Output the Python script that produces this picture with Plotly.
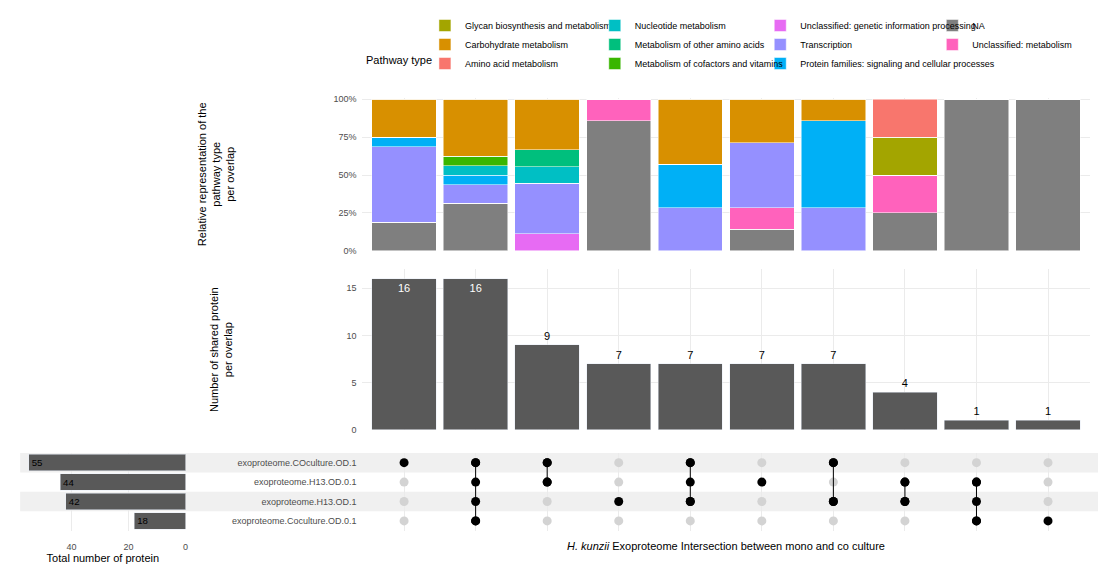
import plotly.graph_objects as go

inter = ["I1", "I2", "I3", "I4", "I5", "I6", "I7", "I8", "I9", "I10"]
counts = [16, 16, 9, 7, 7, 7, 7, 4, 1, 1]

# protein counts per pathway type in each overlap (colour, legend column, values)
pathways = {
    "Amino acid metabolism": ("#F8766D", "legend", [0, 0, 0, 0, 0, 0, 0, 1, 0, 0]),
    "Carbohydrate metabolism": ("#D89000", "legend", [4, 6, 3, 0, 3, 2, 1, 0, 0, 0]),
    "Glycan biosynthesis and metabolism": ("#A3A500", "legend", [0, 0, 0, 0, 0, 0, 0, 1, 0, 0]),
    "Metabolism of cofactors and vitamins": ("#39B600", "legend2", [0, 1, 0, 0, 0, 0, 0, 0, 0, 0]),
    "Metabolism of other amino acids": ("#00BF7D", "legend2", [0, 0, 1, 0, 0, 0, 0, 0, 0, 0]),
    "Nucleotide metabolism": ("#00BFC4", "legend2", [0, 1, 1, 0, 0, 0, 0, 0, 0, 0]),
    "Protein families: signaling and cellular processes": ("#00B0F6", "legend3", [1, 1, 0, 0, 2, 0, 4, 0, 0, 0]),
    "Transcription": ("#9590FF", "legend3", [8, 2, 3, 0, 2, 3, 2, 0, 0, 0]),
    "Unclassified: genetic information processing": ("#E76BF3", "legend3", [0, 0, 1, 0, 0, 0, 0, 0, 0, 0]),
    "Unclassified: metabolism": ("#FF62BC", "legend4", [0, 0, 0, 1, 0, 1, 0, 1, 0, 0]),
    "NA": ("#7F7F7F", "legend4", [3, 5, 0, 6, 0, 1, 0, 1, 1, 1]),
}
stack_order = ["NA", "Unclassified: genetic information processing", "Unclassified: metabolism",
               "Transcription", "Protein families: signaling and cellular processes",
               "Nucleotide metabolism", "Metabolism of other amino acids",
               "Metabolism of cofactors and vitamins", "Glycan biosynthesis and metabolism",
               "Carbohydrate metabolism", "Amino acid metabolism"]

sets = ["exoproteome.Coculture.OD.0.1", "exoproteome.H13.OD.1", "exoproteome.H13.OD.0.1", "exoproteome.COculture.OD.1"]
set_sizes = [18, 42, 44, 55]
members = [
    ["exoproteome.COculture.OD.1"],
    sets,
    ["exoproteome.COculture.OD.1", "exoproteome.H13.OD.0.1"],
    ["exoproteome.H13.OD.1"],
    ["exoproteome.COculture.OD.1", "exoproteome.H13.OD.0.1", "exoproteome.H13.OD.1"],
    ["exoproteome.H13.OD.0.1"],
    ["exoproteome.COculture.OD.1", "exoproteome.H13.OD.1"],
    ["exoproteome.H13.OD.0.1", "exoproteome.H13.OD.1"],
    ["exoproteome.H13.OD.0.1", "exoproteome.H13.OD.1", "exoproteome.Coculture.OD.0.1"],
    ["exoproteome.Coculture.OD.0.1"],
]

plot = []
legend_rank = {name: i for i, name in enumerate(pathways)}
for name in stack_order:
    color, leg, vals = pathways[name]
    plot.append(
        go.Bar(
            x=inter,
            y=[100 * v / c for v, c in zip(vals, counts)],
            name=name,
            marker=dict(color=color, line=dict(color="white", width=0.5)),
            legendrank=legend_rank[name],
            legend=leg,
            xaxis="x",
            yaxis="y",
        )
    )

plot.append(
    go.Bar(
        x=inter,
        y=counts,
        text=counts,
        textposition=["inside" if c > 12 else "outside" for c in counts],
        insidetextanchor="end",
        insidetextfont=dict(color="white", size=11),
        outsidetextfont=dict(color="black", size=11),
        cliponaxis=False,
        marker=dict(color="#595959"),
        showlegend=False,
        xaxis="x",
        yaxis="y2",
    )
)

# matrix dots and connecting lines
for i, m in enumerate(members):
    ys = [sets.index(s) for s in m]
    plot.append(
        go.Scatter(
            x=[inter[i]] * 4,
            y=list(range(4)),
            mode="markers",
            marker=dict(color=["black" if s in m else "#d3d3d3" for s in sets], size=9),
            showlegend=False,
            xaxis="x",
            yaxis="y3",
        )
    )
    if len(ys) > 1:
        plot.append(
            go.Scatter(
                x=[inter[i]] * 2,
                y=[min(ys), max(ys)],
                mode="lines+markers",
                line=dict(color="black", width=1),
                marker=dict(color="black", size=9),
                showlegend=False,
                xaxis="x",
                yaxis="y3",
            )
        )

plot.append(
    go.Bar(
        x=set_sizes,
        y=list(range(4)),
        orientation="h",
        text=set_sizes,
        textposition="inside",
        insidetextanchor="end",
        textfont=dict(color="black", size=11),
        marker=dict(color="#595959"),
        width=0.85,
        showlegend=False,
        xaxis="x2",
        yaxis="y4",
    )
)

fig = go.Figure(data=plot)
grid = dict(showgrid=True, gridcolor="#ebebeb", zeroline=False, tickfont=dict(size=9, color="#4d4d4d"))
for row in (1, 3):
    fig.add_shape(type="rect", xref="paper", yref="y3", x0=0.011, x1=0.99, y0=row - 0.5, y1=row + 0.5,
                  fillcolor="#f0f0f0", line_width=0, layer="below")

legend_style = dict(y=1.0, yanchor="top", font=dict(size=9), tracegroupgap=0, bgcolor="rgba(0,0,0,0)")
fig.update_layout(
    width=1106,
    height=571,
    barmode="stack",
    bargap=0.1,
    plot_bgcolor="white",
    paper_bgcolor="white",
    font=dict(family="Liberation Sans", size=10, color="black"),
    margin=dict(l=0, r=0, t=0, b=0),
    xaxis=dict(domain=[0.321, 0.981], showticklabels=False, anchor="y3", **grid),
    yaxis=dict(domain=[0.574, 0.846], range=[0, 101], tickvals=[0, 25, 50, 75, 100],
               ticktext=["0%", "25%", "50%", "75%", "100%"], anchor="free", position=0.316,
               title=dict(text="Relative representation of the<br>pathway type<br>per overlap",
                          font=dict(size=11), standoff=95), **grid),
    yaxis2=dict(domain=[0.256, 0.541], range=[0, 17], tickvals=[0, 5, 10, 15], anchor="free", position=0.316,
                title=dict(text="Number of shared protein<br>per overlap", font=dict(size=11), standoff=110),
                **grid),
    yaxis3=dict(domain=[0.077, 0.215], range=[-0.5, 3.5], tickvals=list(range(4)), ticktext=sets,
                anchor="free", position=0.316, showgrid=False, zeroline=False,
                tickfont=dict(size=9, color="#4d4d4d")),
    yaxis4=dict(domain=[0.077, 0.215], range=[-0.5, 3.5], showticklabels=False, showgrid=False,
                zeroline=False, anchor="x2"),
    xaxis2=dict(domain=[0.011, 0.161], range=[58, 0], tickvals=[0, 20, 40], anchor="free", position=0.06,
                title=dict(text="Total number of protein", font=dict(size=11), standoff=2), **grid),
    legend=dict(x=0.378, **legend_style),
    legend2=dict(x=0.532, **legend_style),
    legend3=dict(x=0.682, **legend_style),
    legend4=dict(x=0.838, **legend_style),
    annotations=[
        dict(text="Pathway type", xref="paper", yref="paper", x=0.323, y=0.928, xanchor="left",
             showarrow=False, font=dict(size=11)),
        dict(text="<i>H. kunzii</i> Exoproteome Intersection between mono and co culture",
             xref="paper", yref="paper", x=0.651, y=0.035, showarrow=False, font=dict(size=11)),
    ],
)

fig.write_html("out.html")
